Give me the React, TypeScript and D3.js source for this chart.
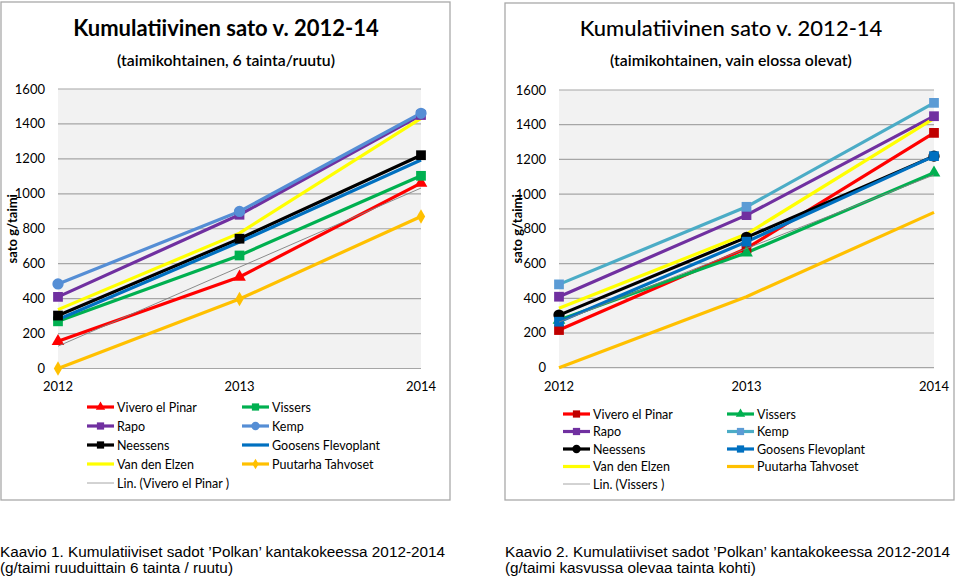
import React from "react";
import * as d3 from "d3";

const years = [2012, 2013, 2014];
const yTicks = [0, 200, 400, 600, 800, 1000, 1200, 1400, 1600];

const seriesNames = [
  "Vivero el Pinar",
  "Vissers",
  "Rapo",
  "Kemp",
  "Neessens",
  "Goosens Flevoplant",
  "Van den Elzen",
  "Puutarha Tahvoset",
];

// Chart 1 (taimikohtainen, 6 tainta/ruutu)
const leftVivero = [156, 524, 1061];
const leftVissers = [270, 647, 1103];
const leftRapo = [410, 880, 1451];
const leftKemp = [484, 899, 1461];
const leftNeessens = [303, 743, 1221];
const leftGoosens = [280, 724, 1194];
const leftVanDenElzen = [337, 775, 1432];
const leftPuutarha = [0, 398, 870];

// Chart 2 (taimikohtainen, vain elossa olevat)
const rightVivero = [217, 687, 1353];
const rightVissers = [275, 662, 1123];
const rightRapo = [409, 879, 1449];
const rightKemp = [480, 927, 1526];
const rightNeessens = [303, 751, 1219];
const rightGoosens = [265, 726, 1219];
const rightVanDenElzen = [342, 770, 1436];
const rightPuutarha = [0, 409, 895];

const FONT = "Lato, 'Open Sans', sans-serif";

type Sym = "triangle" | "square" | "circle" | "diamond" | null;
type SeriesDef = {
  name: string;
  values: number[];
  line: string;
  marker: string;
  sym: Sym;
};

function symPath(sym: Sym, size: number) {
  if (!sym) return null;
  const t =
    sym === "triangle"
      ? d3.symbolTriangle
      : sym === "square"
      ? d3.symbolSquare
      : sym === "circle"
      ? d3.symbolCircle
      : d3.symbolDiamond;
  return d3.symbol().type(t).size(size)();
}

function symSize(sym: Sym, legend: boolean) {
  const k = legend ? 0.55 : 1;
  if (sym === "triangle") return 70 * k;
  if (sym === "square") return 95 * k;
  if (sym === "circle") return 100 * k;
  if (sym === "diamond") return 60 * k;
  return 0;
}

function trend(values: number[]) {
  const xs = values.map((_, i) => i);
  const mx = d3.mean(xs) as number;
  const my = d3.mean(values) as number;
  let num = 0;
  let den = 0;
  xs.forEach((x, i) => {
    num += (x - mx) * (values[i] - my);
    den += (x - mx) * (x - mx);
  });
  const b = num / den;
  return xs.map((x) => my + b * (x - mx));
}

type ChartProps = {
  frame: [number, number, number, number];
  plot: { x0: number; x1: number; yTop: number; yBottom: number };
  title: string;
  titleWeight: number;
  titleX: number;
  subtitle: string;
  series: SeriesDef[];
  trendOf: number;
  trendLabel: string;
  legend: { col1: number; col2: number; rows: number[] };
  yTitleX: number;
};

function Chart(p: ChartProps) {
  const x = d3.scaleLinear().domain([2012, 2014]).range([p.plot.x0, p.plot.x1]);
  const y = d3.scaleLinear().domain([0, 1600]).range([p.plot.yBottom, p.plot.yTop]);
  const line = d3
    .line<number>()
    .x((_, i) => x(years[i]))
    .y((d) => y(d));
  const tr = trend(p.series[p.trendOf].values);
  const [fx0, fy0, fx1, fy1] = p.frame;
  const legendItems = [
    ...p.series.map((s) => ({ ...s })),
    { name: p.trendLabel, values: [], line: "#a6a6a6", marker: "", sym: null as Sym },
  ];
  return (
    <g>
      <rect
        x={fx0}
        y={fy0}
        width={fx1 - fx0}
        height={fy1 - fy0}
        fill="#fff"
        stroke="#a9a9a9"
        strokeWidth={1.3}
      />
      <text
        x={p.titleX}
        y={36}
        textAnchor="middle"
        fontFamily={FONT}
        fontSize={22}
        fontWeight={p.titleWeight}
        fill="#000"
      >
        {p.title}
      </text>
      <text
        x={p.titleX}
        y={66}
        textAnchor="middle"
        fontFamily={FONT}
        fontSize={15.8}
        fontWeight={600}
        fill="#000"
      >
        {p.subtitle}
      </text>
      <rect
        x={p.plot.x0}
        y={p.plot.yTop}
        width={p.plot.x1 - p.plot.x0}
        height={p.plot.yBottom - p.plot.yTop}
        fill="#f2f2f2"
      />
      {yTicks.map((t) => (
        <g key={t}>
          <line
            x1={p.plot.x0}
            x2={p.plot.x1}
            y1={y(t)}
            y2={y(t)}
            stroke="#a6a6a6"
            strokeWidth={1.2}
          />
          <text
            x={p.plot.x0 - 13}
            y={y(t) + 4.5}
            textAnchor="end"
            fontFamily={FONT}
            fontSize={13}
            fill="#000"
          >
            {t}
          </text>
        </g>
      ))}
      {years.map((yr) => (
        <text
          key={yr}
          x={x(yr)}
          y={391}
          textAnchor="middle"
          fontFamily={FONT}
          fontSize={13}
          fill="#000"
        >
          {yr}
        </text>
      ))}
      <text
        transform={`translate(${p.yTitleX},${(p.plot.yTop + p.plot.yBottom) / 2}) rotate(-90)`}
        textAnchor="middle"
        fontFamily={FONT}
        fontSize={13}
        fontWeight={700}
        fill="#000"
      >
        sato g/taimi
      </text>
      {p.series.map((s) => (
        <path
          key={s.name}
          d={line(s.values) || ""}
          fill="none"
          stroke={s.line}
          strokeWidth={3.2}
          strokeLinejoin="round"
        />
      ))}
      {p.series.map((s) =>
        s.sym
          ? s.values.map((v, i) => (
              <path
                key={s.name + i}
                d={symPath(s.sym, symSize(s.sym, false)) || ""}
                transform={`translate(${x(years[i])},${y(v)})`}
                fill={s.marker}
              />
            ))
          : null
      )}
      <path d={line(tr) || ""} fill="none" stroke="#7f7f7f" strokeWidth={0.9} />
      {legendItems.map((s, i) => {
        const col = i === legendItems.length - 1 ? 0 : i % 2;
        const row = Math.floor(i / 2);
        const lx = col === 0 ? p.legend.col1 : p.legend.col2;
        const ly = p.legend.rows[row];
        const isTrend = i === legendItems.length - 1;
        return (
          <g key={"lg" + i}>
            <line
              x1={lx}
              x2={lx + 27}
              y1={ly}
              y2={ly}
              stroke={s.line}
              strokeWidth={isTrend ? 1 : 3.2}
            />
            {s.sym ? (
              <path
                d={symPath(s.sym, symSize(s.sym, true)) || ""}
                transform={`translate(${lx + 13.5},${ly})`}
                fill={s.marker}
              />
            ) : null}
            <text
              x={lx + 30}
              y={ly + 4.5}
              fontFamily={FONT}
              fontSize={12.5}
              fill="#000"
            >
              {s.name}
            </text>
          </g>
        );
      })}
    </g>
  );
}

const leftSeries: SeriesDef[] = [
  { name: seriesNames[0], values: leftVivero, line: "#ff0000", marker: "#ff0000", sym: "triangle" },
  { name: seriesNames[1], values: leftVissers, line: "#00b050", marker: "#00b050", sym: "square" },
  { name: seriesNames[2], values: leftRapo, line: "#7030a0", marker: "#7030a0", sym: "square" },
  { name: seriesNames[3], values: leftKemp, line: "#558ed5", marker: "#558ed5", sym: "circle" },
  { name: seriesNames[4], values: leftNeessens, line: "#000000", marker: "#000000", sym: "square" },
  { name: seriesNames[5], values: leftGoosens, line: "#0070c0", marker: "#0070c0", sym: null },
  { name: seriesNames[6], values: leftVanDenElzen, line: "#ffff00", marker: "#ffff00", sym: null },
  { name: seriesNames[7], values: leftPuutarha, line: "#ffc000", marker: "#ffc000", sym: "diamond" },
];

const rightSeries: SeriesDef[] = [
  { name: seriesNames[0], values: rightVivero, line: "#ff0000", marker: "#c00000", sym: "square" },
  { name: seriesNames[1], values: rightVissers, line: "#00b050", marker: "#00b050", sym: "triangle" },
  { name: seriesNames[2], values: rightRapo, line: "#7030a0", marker: "#7030a0", sym: "square" },
  { name: seriesNames[3], values: rightKemp, line: "#4bacc6", marker: "#5b9bd5", sym: "square" },
  { name: seriesNames[4], values: rightNeessens, line: "#000000", marker: "#000000", sym: "circle" },
  { name: seriesNames[5], values: rightGoosens, line: "#0070c0", marker: "#0070c0", sym: "square" },
  { name: seriesNames[6], values: rightVanDenElzen, line: "#ffff00", marker: "#ffff00", sym: null },
  { name: seriesNames[7], values: rightPuutarha, line: "#ffc000", marker: "#ffc000", sym: null },
];

const CAPFONT = "'Liberation Sans', Arial, sans-serif";

export default function App() {
  return (
    <svg
      width={960}
      height={576}
      style={{ position: "absolute", left: 0, top: 0, background: "#fff" }}
    >
      <rect x={0} y={0} width={960} height={576} fill="#fff" />
      <Chart
        frame={[1, 2, 450, 500]}
        plot={{ x0: 58, x1: 421, yTop: 89, yBottom: 368.5 }}
        title="Kumulatiivinen sato v. 2012-14"
        titleWeight={700}
        titleX={226}
        subtitle="(taimikohtainen, 6 tainta/ruutu)"
        series={leftSeries}
        trendOf={0}
        trendLabel="Lin. (Vivero el Pinar )"
        legend={{ col1: 87, col2: 242, rows: [407, 426, 445, 464, 483] }}
        yTitleX={17}
      />
      <Chart
        frame={[505, 3, 954, 500]}
        plot={{ x0: 559, x1: 934, yTop: 90, yBottom: 367.7 }}
        title="Kumulatiivinen sato v. 2012-14"
        titleWeight={500}
        titleX={731}
        subtitle="(taimikohtainen, vain elossa olevat)"
        series={rightSeries}
        trendOf={1}
        trendLabel="Lin. (Vissers )"
        legend={{ col1: 563, col2: 727, rows: [414, 431.5, 449, 466.5, 484] }}
        yTitleX={522}
      />
      <text x={0} y={557} fontFamily={CAPFONT} fontSize={15.3} fill="#000">
        Kaavio 1. Kumulatiiviset sadot ’Polkan’ kantakokeessa 2012-2014
      </text>
      <text x={0} y={573} fontFamily={CAPFONT} fontSize={15.3} fill="#000">
        (g/taimi ruuduittain 6 tainta / ruutu)
      </text>
      <text x={505} y={557} fontFamily={CAPFONT} fontSize={15.3} fill="#000">
        Kaavio 2. Kumulatiiviset sadot ’Polkan’ kantakokeessa 2012-2014
      </text>
      <text x={505} y={573} fontFamily={CAPFONT} fontSize={15.3} fill="#000">
        (g/taimi kasvussa olevaa tainta kohti)
      </text>
    </svg>
  );
}
